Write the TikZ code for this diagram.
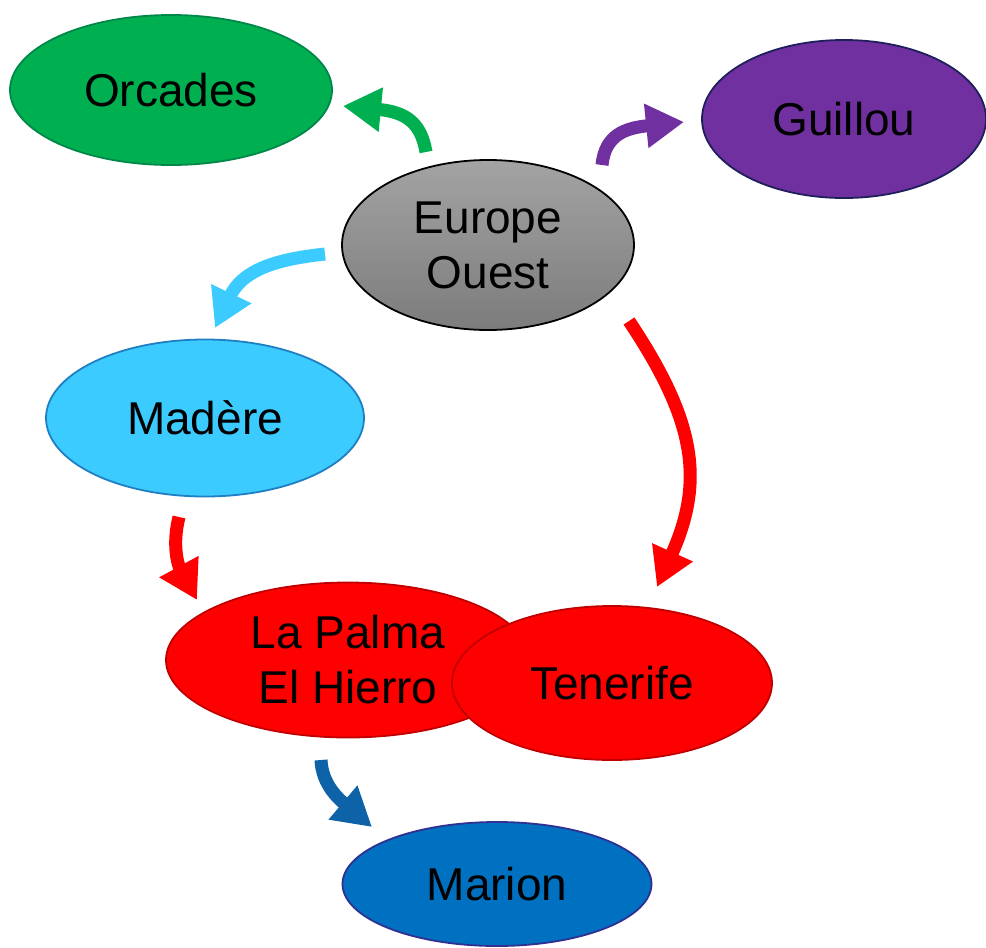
\documentclass[tikz,border=0pt]{standalone}
\usepackage{fontspec}
\setmainfont{Liberation Sans}
\usetikzlibrary{shapes.geometric,arrows.meta}

\definecolor{orcfill}{HTML}{00B050}
\definecolor{orcline}{HTML}{00874A}
\definecolor{guifill}{HTML}{7030A0}
\definecolor{guiline}{HTML}{1F1F5C}
\definecolor{madfill}{HTML}{3CCBFF}
\definecolor{madline}{HTML}{1E7FC2}
\definecolor{redfill}{HTML}{FF0000}
\definecolor{redline}{HTML}{C00000}
\definecolor{marfill}{HTML}{0070C0}
\definecolor{marline}{HTML}{2E3192}
\definecolor{eutop}{HTML}{A3A3A3}
\definecolor{eubot}{HTML}{7C7C7C}
\definecolor{bluearrow}{HTML}{0D62A8}

\tikzset{
  island/.style={ellipse, inner sep=0pt, line width=1.8pt,
    font=\fontsize{46}{55}\selectfont, align=center},
  flow/.style={line width=13pt, line cap=butt,
    -{Triangle[length=38pt, width=42pt]}},
}

\begin{document}
\begin{tikzpicture}[x=1pt, y=-1pt]
\useasboundingbox (0,0) rectangle (986,948);

% islands
\node[island, draw=orcline, fill=orcfill, minimum width=322pt, minimum height=150pt]
  (orc) at (171,90) {Orcades};
\node[island, draw=guiline, fill=guifill, minimum width=284pt, minimum height=158pt]
  (gui) at (844,119) {Guillou};
\node[island, draw=black, top color=eutop, bottom color=eubot, minimum width=292pt, minimum height=170pt]
  (eur) at (488,245) {Europe\\Ouest};
\node[island, draw=madline, fill=madfill, minimum width=318pt, minimum height=157pt]
  (mad) at (205,418) {Madère};
\node[island, draw=redline, fill=redfill, minimum width=364pt, minimum height=155pt]
  (lap) at (348,660) {La Palma\\El Hierro};
\node[island, draw=redline, fill=redfill, minimum width=320pt, minimum height=154pt]
  (ten) at (612,683) {Tenerife};
\node[island, draw=marline, fill=marfill, minimum width=309pt, minimum height=124pt]
  (mar) at (497,884) {Marion};

% arrow ends
\coordinate (gTail) at (426,152);  \coordinate (gTip) at (343,106);
\coordinate (pTail) at (602,165);  \coordinate (pTip) at (684,122);
\coordinate (lTail) at (325,254);  \coordinate (lTip) at (215,328);
\coordinate (rTail) at (629,321);  \coordinate (rTip) at (657,587);
\coordinate (sTail) at (179,517);  \coordinate (sTip) at (197,600);
\coordinate (bTail) at (321,760);  \coordinate (bTip) at (372,827);

% curved arrows
\draw[flow, orcfill] (gTail) .. controls (421,122) and (405,112) .. (gTip);
\draw[flow, guifill] (pTail) .. controls (605,135) and (625,128) .. (pTip);
\draw[flow, madfill] (lTail) .. controls (290,258) and (245,265) .. (lTip);
\draw[flow, redfill] (rTail) .. controls (695,420) and (705,480) .. (rTip);
\draw[flow, redfill] (sTail) .. controls (172,545) and (178,565) .. (sTip);
\draw[flow, bluearrow] (bTail) .. controls (322,785) and (340,800) .. (bTip);
\end{tikzpicture}
\end{document}
